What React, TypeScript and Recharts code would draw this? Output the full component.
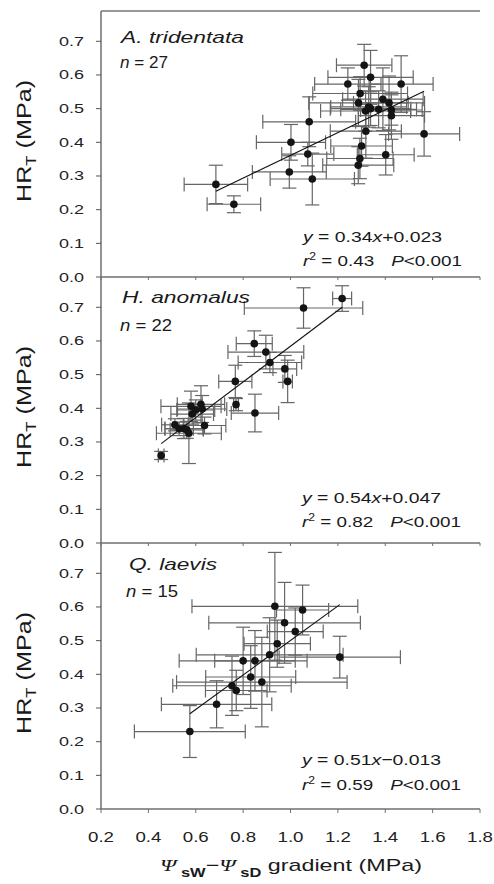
import { ErrorBar, ReferenceLine, Scatter, ScatterChart, XAxis, YAxis } from "recharts";

const xTicks = [0.2, 0.4, 0.6, 0.8, 1.0, 1.2, 1.4, 1.6, 1.8];
const yTicks = [0, 0.1, 0.2, 0.3, 0.4, 0.5, 0.6, 0.7];

// A. tridentata, n = 27
const tridX = [0.685, 0.761, 0.995, 1.002, 1.073, 1.079, 1.092, 1.242, 1.311, 1.338, 1.467, 1.294, 1.287, 1.390, 1.416, 1.317, 1.338, 1.372, 1.426, 1.426, 1.318, 1.564, 1.300, 1.293, 1.402, 1.286, 1.330];
const tridY = [0.275, 0.216, 0.312, 0.400, 0.365, 0.461, 0.291, 0.573, 0.629, 0.593, 0.573, 0.545, 0.517, 0.528, 0.517, 0.493, 0.500, 0.498, 0.496, 0.479, 0.433, 0.425, 0.389, 0.352, 0.363, 0.332, 0.505];
const tridXErr = [0.134, 0.113, 0.156, 0.146, 0.110, 0.196, 0.178, 0.140, 0.117, 0.180, 0.135, 0.200, 0.210, 0.170, 0.150, 0.190, 0.170, 0.160, 0.130, 0.140, 0.150, 0.150, 0.130, 0.140, 0.120, 0.150, 0.160];
const tridYErr = [0.057, 0.025, 0.048, 0.053, 0.035, 0.074, 0.077, 0.048, 0.062, 0.080, 0.084, 0.050, 0.070, 0.093, 0.080, 0.060, 0.050, 0.055, 0.045, 0.070, 0.080, 0.066, 0.060, 0.060, 0.060, 0.055, 0.060];
const tridFitX = [0.685, 1.564];
const tridFitY = [0.255, 0.552];

// H. anomalus, n = 22
const anomX = [0.454, 0.512, 0.530, 0.550, 0.562, 0.571, 0.580, 0.585, 0.600, 0.622, 0.627, 0.637, 0.767, 0.770, 0.847, 0.850, 0.896, 0.913, 0.976, 0.988, 1.055, 1.218];
const anomY = [0.260, 0.351, 0.339, 0.340, 0.336, 0.326, 0.406, 0.383, 0.395, 0.412, 0.398, 0.349, 0.480, 0.411, 0.592, 0.386, 0.567, 0.536, 0.517, 0.480, 0.698, 0.726];
const anomXErr = [0.012, 0.056, 0.060, 0.080, 0.070, 0.137, 0.127, 0.090, 0.080, 0.100, 0.104, 0.090, 0.070, 0.010, 0.076, 0.100, 0.160, 0.134, 0.050, 0.020, 0.250, 0.040];
const anomYErr = [0.012, 0.018, 0.020, 0.030, 0.025, 0.090, 0.045, 0.030, 0.030, 0.055, 0.040, 0.025, 0.048, 0.018, 0.038, 0.056, 0.050, 0.030, 0.040, 0.063, 0.060, 0.038];
const anomFitX = [0.454, 1.218];
const anomFitY = [0.295, 0.700];

// Q. laevis, n = 15
const laevX = [0.575, 0.688, 0.753, 0.771, 0.800, 0.832, 0.850, 0.879, 0.912, 0.934, 0.944, 0.975, 1.020, 1.051, 1.208];
const laevY = [0.230, 0.311, 0.366, 0.352, 0.440, 0.392, 0.440, 0.377, 0.458, 0.602, 0.491, 0.553, 0.527, 0.591, 0.451];
const laevXErr = [0.234, 0.233, 0.250, 0.130, 0.270, 0.190, 0.170, 0.360, 0.310, 0.350, 0.140, 0.320, 0.118, 0.110, 0.256];
const laevYErr = [0.077, 0.070, 0.088, 0.060, 0.100, 0.093, 0.090, 0.133, 0.110, 0.160, 0.070, 0.120, 0.070, 0.074, 0.062];
const laevFitX = [0.575, 1.208];
const laevFitY = [0.283, 0.607];

const font = "'Liberation Sans', Arial, sans-serif";
const axisColor = "#6f6f6f";

function rows(xs: number[], ys: number[], exs: number[], eys: number[]) {
  return xs.map((x, i) => ({ x, y: ys[i], ex: exs[i], ey: eys[i] }));
}
function fitRows(xs: number[], ys: number[]) {
  return xs.map((x, i) => ({ x, y: ys[i] }));
}

function Dot(props: any) {
  return <circle cx={props.cx} cy={props.cy} r={3.8} fill="#141414" />;
}

function YTick({ x, y, payload }: any) {
  return (
    <text x={x} y={y} dy={4.5} textAnchor="end" fontSize={13} fill="#222" fontFamily={font}
      textLength={25} lengthAdjust="spacingAndGlyphs">
      {Number(payload.value).toFixed(1)}
    </text>
  );
}

function XTick({ x, y, payload }: any) {
  return (
    <text x={x} y={y} dy={27} textAnchor="middle" fontSize={14} fill="#222" fontFamily={font}
      textLength={26} lengthAdjust="spacingAndGlyphs">
      {Number(payload.value).toFixed(1)}
    </text>
  );
}

function Panel({ points, fit, top, last, topLine }: {
  points: ReturnType<typeof rows>;
  fit: ReturnType<typeof fitRows>;
  top: number;
  last?: boolean;
  topLine?: boolean;
}) {
  const axisH = last ? 40 : 1;
  const bottom = last ? 0 : 12;
  const height = 11 + 266 + axisH + bottom;
  return (
    <div style={{ position: "absolute", left: 0, top }}>
      <ScatterChart width={494} height={height} margin={{ top: 11, right: 14, bottom, left: 0 }}>
        <XAxis type="number" dataKey="x" domain={[0.2, 1.8]} ticks={xTicks} allowDataOverflow
          height={axisH} tickSize={last ? 4 : 3} tick={last ? <XTick /> : () => <g />}
          axisLine={{ stroke: axisColor, strokeWidth: 1.5 }} tickLine={{ stroke: axisColor }} />
        <YAxis type="number" dataKey="y" domain={[0, 0.79]} ticks={yTicks} allowDataOverflow
          width={101} tickSize={5} tickMargin={12} tick={<YTick />}
          axisLine={{ stroke: axisColor, strokeWidth: 1.5 }} tickLine={{ stroke: "#555" }} />
        {topLine && <ReferenceLine y={0.79} stroke="#333" strokeWidth={1} />}
        <Scatter data={points} fill="#141414" shape={<Dot />} isAnimationActive={false}>
          <ErrorBar dataKey="ex" direction="x" width={7} stroke="#666" strokeWidth={1.2} isAnimationActive={false} />
          <ErrorBar dataKey="ey" direction="y" width={7} stroke="#666" strokeWidth={1.2} isAnimationActive={false} />
        </Scatter>
        <Scatter data={fit} fill="#111" stroke="#111" line={{ stroke: "#111", strokeWidth: 1.1 }}
          shape={() => <g />} isAnimationActive={false} />
      </ScatterChart>
    </div>
  );
}

const panelTexts = [
  { name: "A. tridentata", nText: "27", slope: "0.34", sign: "+", icpt: "0.023", r2: "0.43", top: 11, nameX: 121, nameW: 123, nameY: 43, nX: 120, nW: 48, nY: 68, eqX: 303, eqY: 241.5, rY: 265.5 },
  { name: "H. anomalus", nText: "22", slope: "0.54", sign: "+", icpt: "0.047", r2: "0.82", top: 277, nameX: 122, nameW: 128, nameY: 303, nX: 120, nW: 52, nY: 331, eqX: 302, eqY: 503, rY: 527 },
  { name: "Q. laevis", nText: "15", slope: "0.51", sign: "\u2212", icpt: "0.013", r2: "0.59", top: 543, nameX: 129, nameW: 88, nameY: 570, nX: 126, nW: 52, nY: 597, eqX: 302, eqY: 765, rY: 790 },
];

function Overlay() {
  return (
    <svg width={494} height={884} style={{ position: "absolute", left: 0, top: 0, pointerEvents: "none" }}
      fontFamily={font} fill="#1a1a1a">
      {panelTexts.map((p) => (
        <g key={p.name}>
          <text x={p.nameX} y={p.nameY} fontSize={17} fontStyle="italic" textLength={p.nameW} lengthAdjust="spacingAndGlyphs">{p.name}</text>
          <text x={p.nX} y={p.nY} fontSize={16} textLength={p.nW} lengthAdjust="spacingAndGlyphs">
            <tspan fontStyle="italic">n</tspan> = {p.nText}
          </text>
          <text x={p.eqX} y={p.eqY} fontSize={15.5} textLength={139} lengthAdjust="spacingAndGlyphs">
            <tspan fontStyle="italic">y</tspan> = {p.slope}<tspan fontStyle="italic">x</tspan>{p.sign}{p.icpt}
          </text>
          <text x={p.eqX} y={p.rY} fontSize={15.5} textLength={159} lengthAdjust="spacingAndGlyphs">
            <tspan fontStyle="italic">r</tspan><tspan fontSize={10} dy={-6}>2</tspan><tspan dy={6}> = {p.r2}</tspan>
            <tspan dx={14} fontStyle="italic">P</tspan>{"<0.001"}
          </text>
          <text transform={`translate(31, ${p.top + 130}) rotate(-90)`} textAnchor="middle" fontSize={21}
            textLength={122} lengthAdjust="spacingAndGlyphs">
            HR<tspan fontSize={14} dy={5}>T</tspan><tspan dy={-5}> (MPa)</tspan>
          </text>
        </g>
      ))}
      <text x={160} y={871} fontSize={17} textLength={262} lengthAdjust="spacingAndGlyphs">
        <tspan fontStyle="italic" fontFamily="'Liberation Serif', serif">{"\u03A8"}</tspan>
        <tspan fontSize={12} fontWeight="bold" dy={6}> sW</tspan>
        <tspan dy={-6}>{"\u2212"}</tspan>
        <tspan fontStyle="italic" fontFamily="'Liberation Serif', serif">{"\u03A8"}</tspan>
        <tspan fontSize={12} fontWeight="bold" dy={6}> sD</tspan>
        <tspan dy={-6}>{"  gradient (MPa)"}</tspan>
      </text>
    </svg>
  );
}

export default function App() {
  return (
    <div style={{ position: "absolute", left: 0, top: 0, width: 494, height: 884, background: "#fff" }}>
      <Panel points={rows(tridX, tridY, tridXErr, tridYErr)} fit={fitRows(tridFitX, tridFitY)} top={0} topLine />
      <Panel points={rows(anomX, anomY, anomXErr, anomYErr)} fit={fitRows(anomFitX, anomFitY)} top={266} />
      <Panel points={rows(laevX, laevY, laevXErr, laevYErr)} fit={fitRows(laevFitX, laevFitY)} top={532} last />
      <Overlay />
    </div>
  );
}
